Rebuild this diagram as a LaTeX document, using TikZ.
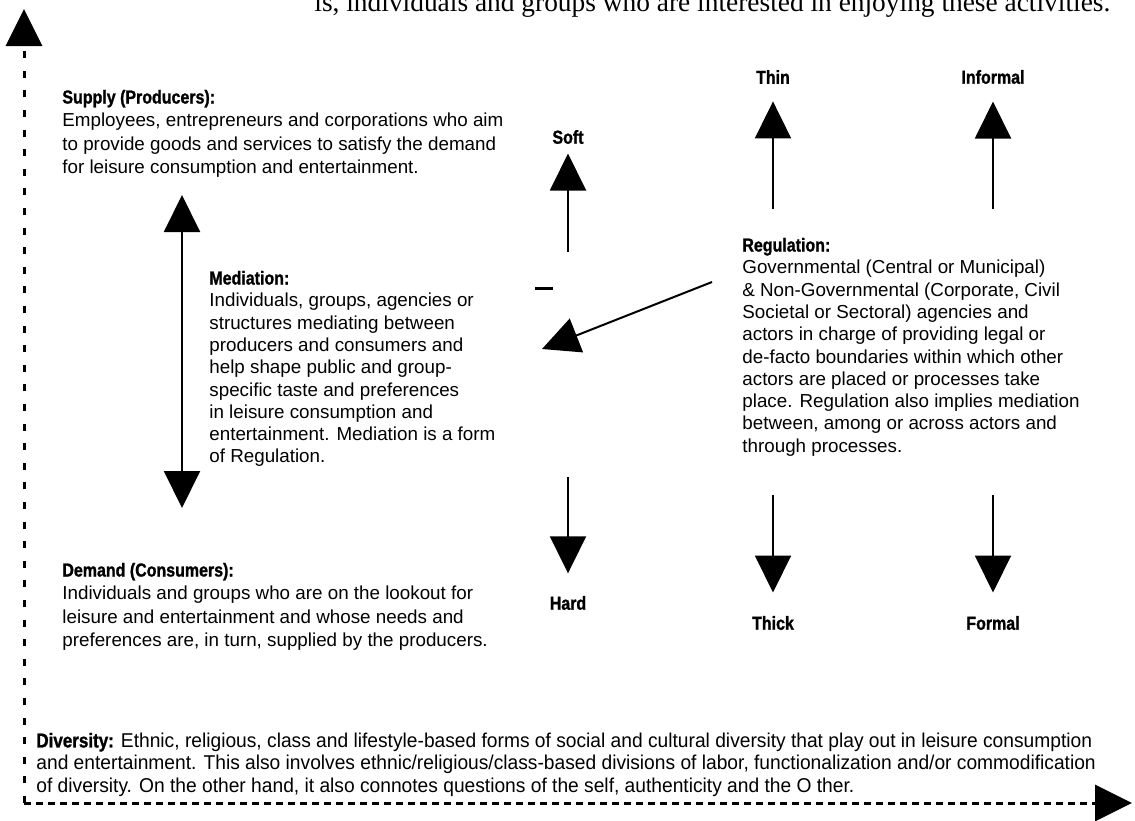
\documentclass[tikz,border=0pt]{standalone}
\usepackage{fontspec}
\setmainfont{Liberation Sans}
\newfontfamily\headfont{Liberation Sans}[FakeStretch=0.85, BoldFeatures={FakeBold=1.2}]
\newfontfamily\narrowfont{Liberation Sans}[FakeStretch=0.96]
\newfontfamily\bookfont{Liberation Serif}
\usetikzlibrary{arrows.meta}
\newcommand{\hd}[1]{{\headfont\bfseries #1}}

\begin{document}
\begin{tikzpicture}[x=0.5pt, y=-0.5pt, >={Triangle[width=18pt,length=18.5pt]},
  every node/.style={inner sep=0pt},
  blurb/.style={anchor=north west, align=left, font=\fontsize{9.4}{11.7}\selectfont},
  tight/.style={font=\fontsize{9.4}{11.15}\selectfont},
  pole/.style={font=\fontsize{9.4}{11.25}\headfont\bfseries},
  stem/.style={line width=1pt},
  axis/.style={->, line width=1.5pt, dash pattern=on 3.5pt off 6.3pt}]

\useasboundingbox (0,0) rectangle (1135,820);

\node[anchor=base west, font=\fontsize{13.7}{15}\bookfont] (carry) at (314,11) {is, individuals and groups who are interested in enjoying these activities.};

\coordinate (O) at (24,803);
\coordinate (Y) at (24,9);
\coordinate (X) at (1132,803);
\draw[axis] (O) -- (Y);
\draw[axis, dash pattern=on 3.5pt off 2.5pt] (O) -- (X);

\node[blurb] (supply) at (62,89.5) {\hd{Supply (Producers):}\\
Employees, entrepreneurs and corporations who aim\\
to provide goods and services to satisfy the demand\\
for leisure consumption and entertainment.};

\node[blurb, tight] (mediation) at (209,270.5) {\hd{Mediation:}\\
Individuals, groups, agencies or\\
structures mediating between\\
producers and consumers and\\
help shape public and group-\\
specific taste and preferences\\
in leisure consumption and\\
entertainment. Mediation is a form\\
of Regulation.};

\node[blurb, tight] (regulation) at (742,237.5) {\hd{Regulation:}\\
Governmental (Central or Municipal)\\
\& Non-Governmental (Corporate, Civil\\
Societal or Sectoral) agencies and\\
actors in charge of providing legal or\\
de-facto boundaries within which other\\
actors are placed or processes take\\
place. Regulation also implies mediation\\
between, among or across actors and\\
through processes.};

\node[blurb] (demand) at (62,562.5) {\hd{Demand (Consumers):}\\
Individuals and groups who are on the lookout for\\
leisure and entertainment and whose needs and\\
preferences are, in turn, supplied by the producers.};

\node[blurb, font=\fontsize{10}{11.25}\narrowfont] (diversity) at (36,732.5) {\hd{Diversity:} Ethnic, religious, class and lifestyle-based forms of social and cultural diversity that play out in leisure consumption\\
and entertainment. This also involves ethnic/religious/class-based divisions of labor, functionalization and/or commodification\\
of diversity. On the other hand, it also connotes questions of the self, authenticity and the O ther.};

\node[pole] (soft) at (568,137) {Soft};
\node[pole] (hard) at (568,603) {Hard};
\node[pole] (thin) at (773,77) {Thin};
\node[pole] (thick) at (773,623) {Thick};
\node[pole] (informal) at (993,77) {Informal};
\node[pole] (formal) at (993,623) {Formal};

\coordinate (softfoot) at (568,252);
\coordinate (hardtop) at (568,477);
\coordinate (thinfoot) at (773,209);
\coordinate (thicktop) at (773,495);
\coordinate (informalfoot) at (993,209);
\coordinate (formaltop) at (993,495);
\coordinate (medtop) at (182,195);
\coordinate (medbot) at (182,508);
\coordinate (regfoot) at (712,282);
\coordinate (regtip) at (542,349);

\path (softfoot) edge[stem, ->, shorten >=4.6pt] (soft)
      (hardtop) edge[stem, ->, shorten >=11.2pt] (hard)
      (thinfoot) edge[stem, ->, shorten >=8.6pt] (thin)
      (thicktop) edge[stem, ->, shorten >=11.6pt] (thick)
      (informalfoot) edge[stem, ->, shorten >=8.6pt] (informal)
      (formaltop) edge[stem, ->, shorten >=11.6pt] (formal);
\draw[stem, <->] (medtop) -- (medbot);
\draw[stem, ->] (regfoot) -- (regtip);
\draw[line width=1.5pt] (535,288) -- (553,288);
\end{tikzpicture}
\end{document}
